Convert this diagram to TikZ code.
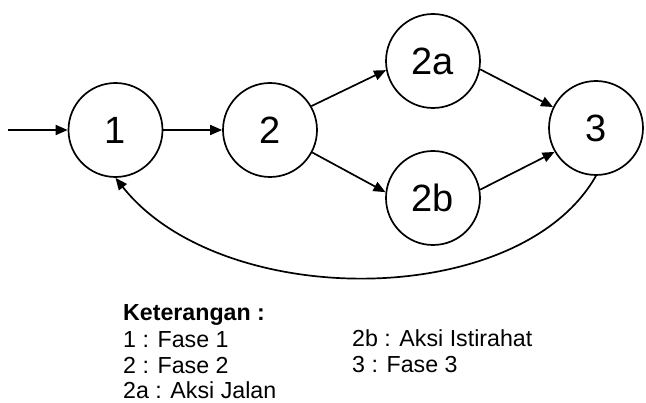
\documentclass[tikz,border=0pt]{standalone}
\usepackage{fontspec}
\setmainfont{Liberation Sans}
\usetikzlibrary{arrows.meta}
\begin{document}
\begin{tikzpicture}[x=1pt,y=-1pt,
  state/.style={circle,draw,line width=1.7pt,minimum size=94pt,inner sep=0pt,font=\fontsize{38}{40}\selectfont},
  arr/.style={line width=1.7pt,-{Triangle[length=12pt,width=10pt]}},
  legend/.style={anchor=base west,inner sep=0pt,font=\fontsize{23.2}{26}\selectfont},
  legendhead/.style={anchor=base west,inner sep=0pt,font=\bfseries\fontsize{23.2}{26}\selectfont}]
\useasboundingbox (0,0) rectangle (646,403);
\node[state] (n1) at (115.5,130) {1};
\node[state] (n2) at (270,130) {2};
\node[state] (n2a) at (433,61) {2a};
\node[state] (n2b) at (433,198) {2b};
\node[state] (n3) at (596,128) {3};
\coordinate (start) at (8,130);
\draw[arr] (start) -- (n1);
\draw[arr] (n1) -- (n2);
\draw[arr] (n2.30) -- (n2a.191);
\draw[arr] (n2.-28) -- (n2b.173);
\draw[arr] (n2a.-10) -- (n3.154);
\draw[arr] (n2b.10) -- (n3.210);
\draw[arr] (n3.south) .. controls (519,311) and (221,311) .. (n1.south);
\node[legendhead] (k) at (123,321) {Keterangan :};
\node[legend] (l1) at (123,348) {1 : Fase 1};
\node[legend] (l2) at (123,374) {2 : Fase 2};
\node[legend] (l2a) at (123,399) {2a : Aksi Jalan};
\node[legend] (l2b) at (352,347) {2b : Aksi Istirahat};
\node[legend] (l3) at (352,373) {3 : Fase 3};
\end{tikzpicture}
\end{document}
